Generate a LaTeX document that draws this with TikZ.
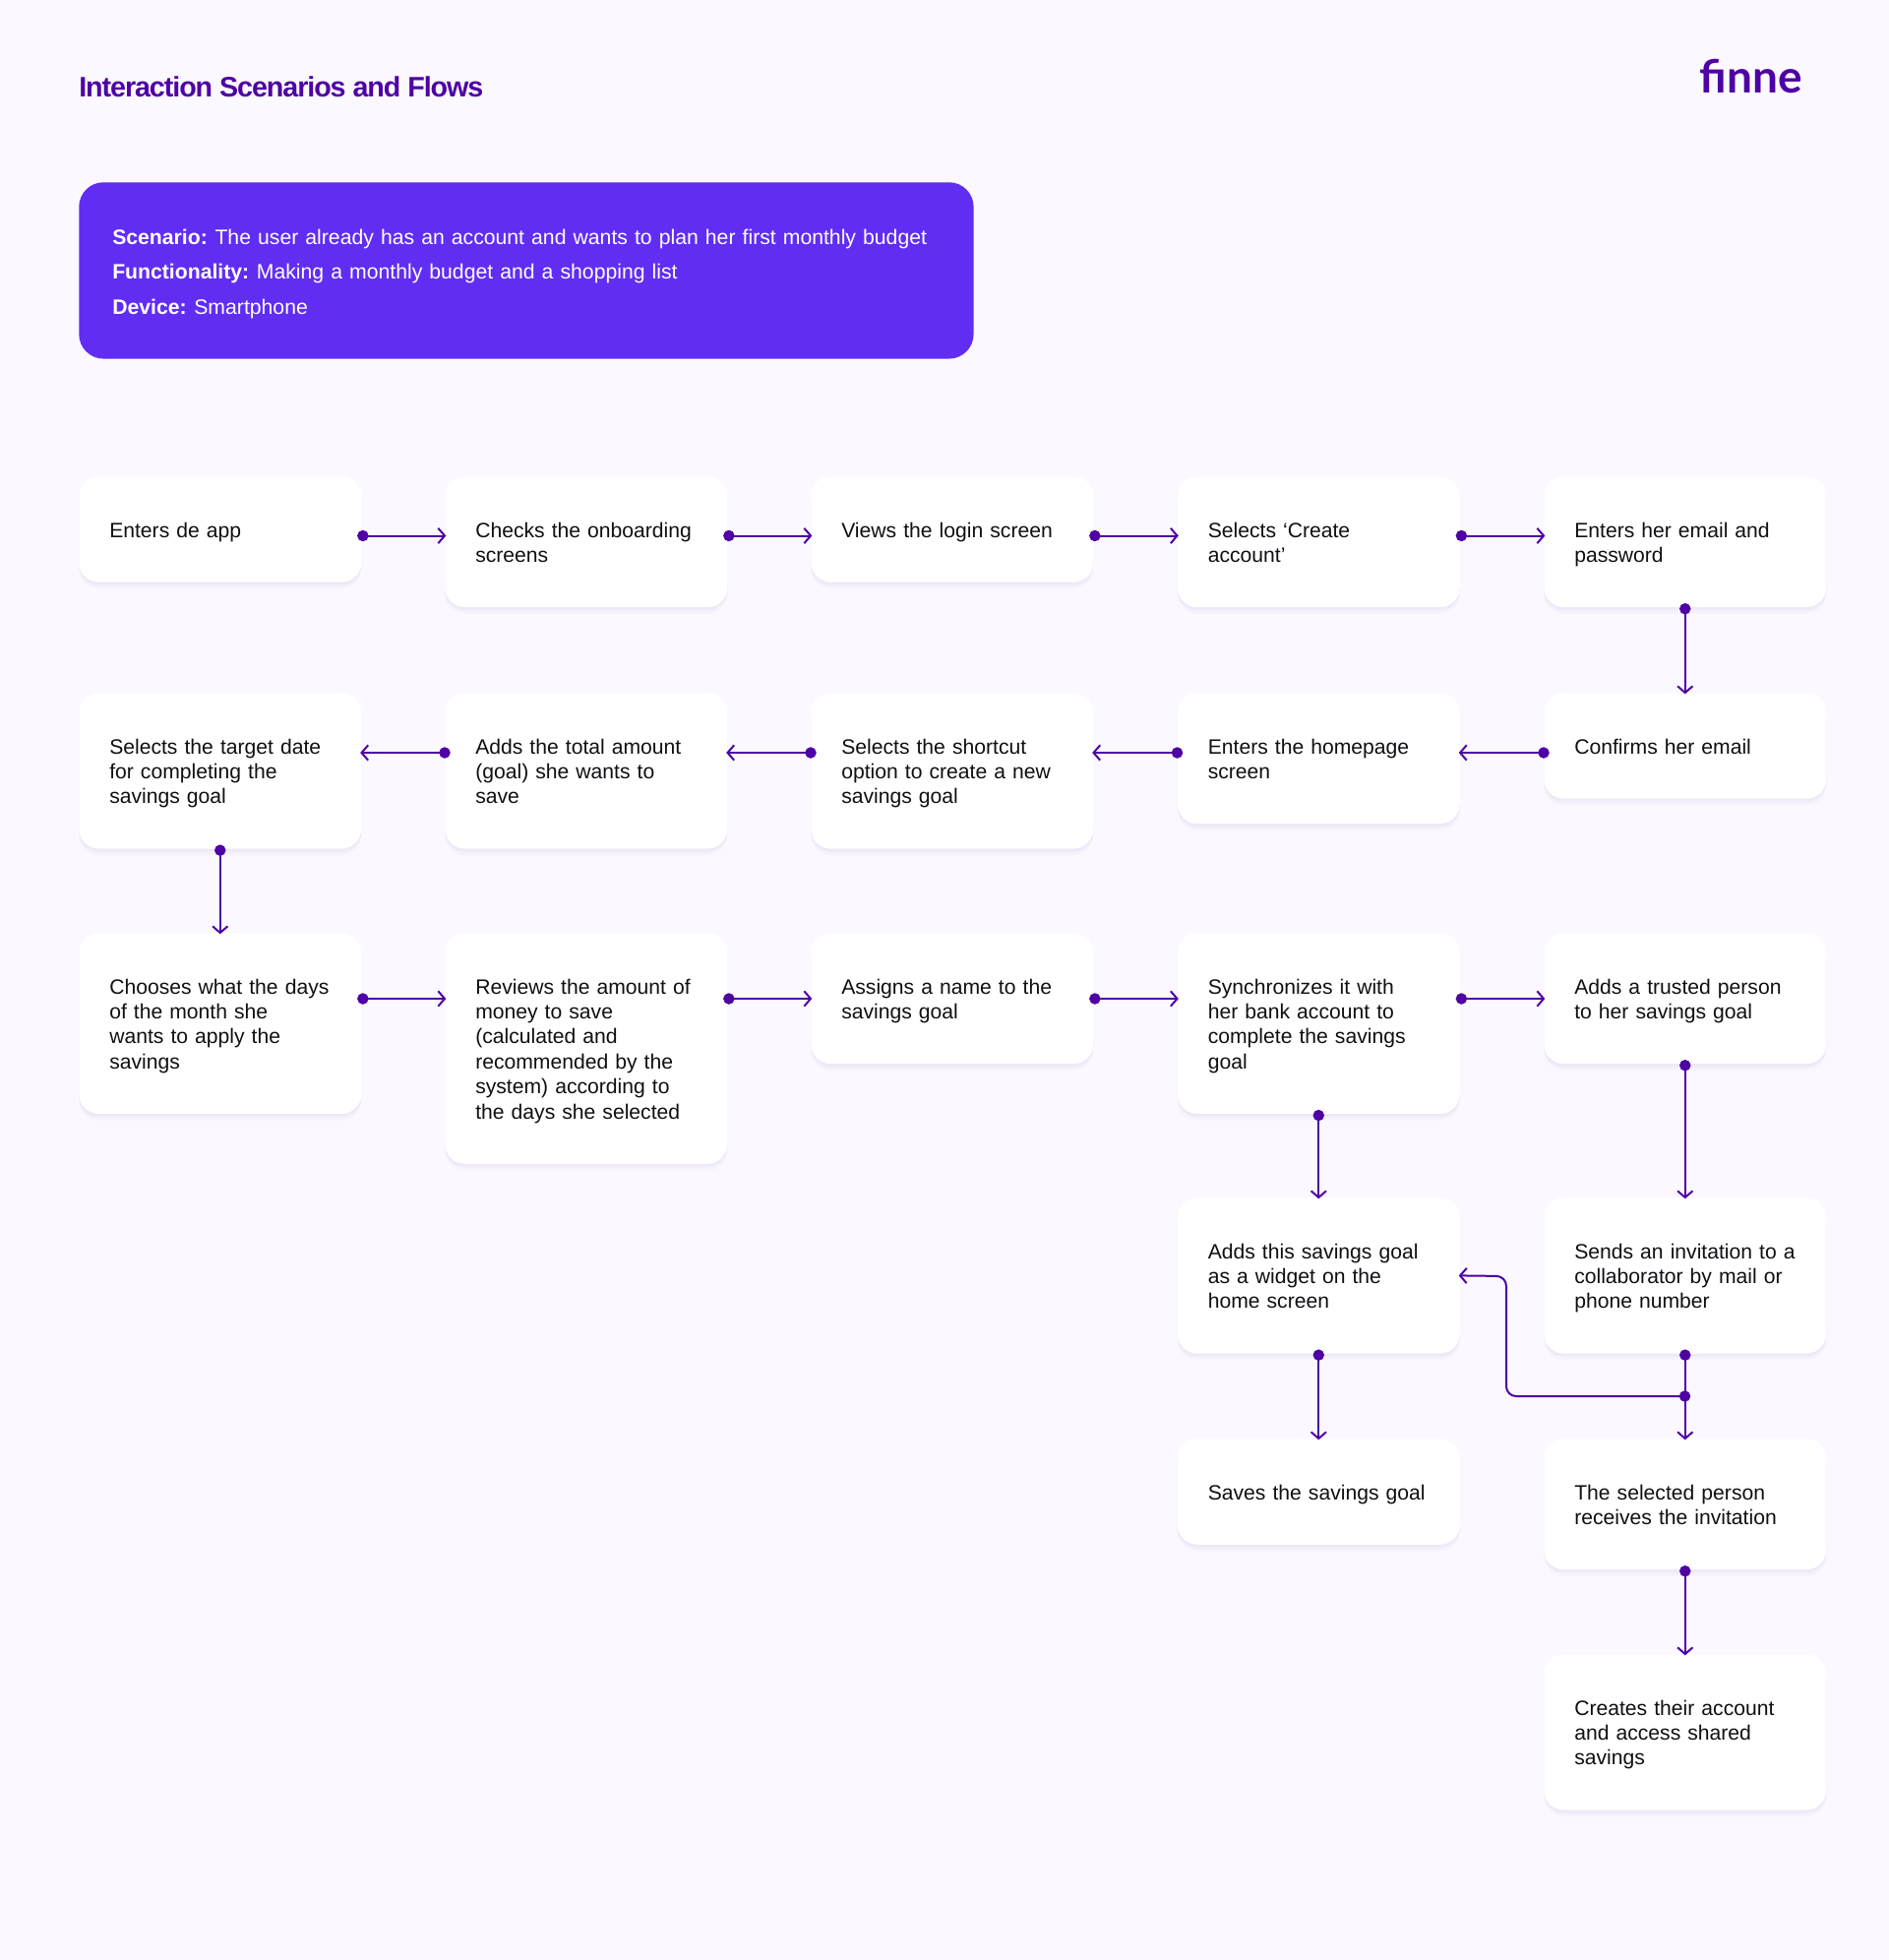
\documentclass[tikz,border=0pt]{standalone}
\usepackage{fontspec}
\setmainfont{Liberation Sans}
\newfontfamily\logofont{Lato}
\usetikzlibrary{arrows.meta,shadows}
\definecolor{pagebg}{HTML}{FBF9FF}
\definecolor{violet}{HTML}{4F02A4}
\definecolor{scenariobg}{HTML}{612DF3}
\definecolor{inktext}{HTML}{101014}
\newcommand{\labelgap}{\hspace{-2.2pt}}
\tikzset{
  softshadow/.style={drop shadow={shadow xshift=0pt,shadow yshift=-#1pt,opacity=0.025,fill=violet}},
  flowbox/.style={anchor=north west,fill=white,rounded corners=15pt,text=inktext,
    softshadow=1.5,softshadow=3,softshadow=5,
    inner xsep=23.25pt,inner ysep=30.8pt,text width=168.75pt,align=left,
    font=\fontsize{15.85}{19.05}\selectfont,
    execute at begin node={\rule{0pt}{15.5pt}},execute at end node={\rule[-3.5pt]{0pt}{3.5pt}}},
  flowline/.style={draw=violet,line width=1.5pt,
    {Circle[length=8.5pt]}-{Straight Barb[length=5pt,width=11.5pt,line width=1.5pt]},
    shorten <=-3.25pt,shorten >=-1pt},
  backline/.style={flowline,shorten <=-4.25pt},
}
\begin{document}
\begin{tikzpicture}[x=0.75pt,y=-0.75pt]
  \useasboundingbox[fill=pagebg] (0,0) rectangle (1920,1992);
  % heading
  \node[anchor=west,inner sep=0pt,text=violet,font=\bfseries\fontsize{21.5}{25}\selectfont\addfontfeature{LetterSpace=-3.7}] (title) at (80,88) {Interaction Scenarios and Flows};
  \node[anchor=base east,inner sep=0pt,text=violet,font=\logofont\bfseries\fontsize{34.5}{36}\selectfont] (logo) at (1832,94) {finne};
  \node[anchor=north west,fill=scenariobg,rounded corners=18.75pt,text=white,inner xsep=25.5pt,inner ysep=27.2pt,
    text width=631pt,align=left,font=\fontsize{15.9}{26.7}\selectfont,
    execute at begin node={\rule{0pt}{19.9pt}},execute at end node={\rule[-6.8pt]{0pt}{6.8pt}}] (scenario) at (80,185) {\textbf{Scenario:}\labelgap{} The user already has an account and wants to plan her first monthly budget\\
    \textbf{Functionality:}\labelgap{} Making a monthly budget and a shopping list\\
    \textbf{Device:}\labelgap{} Smartphone};
  % row 1
  \node[flowbox] (enterapp) at (80,484) {Enters de app};
  \node[flowbox] (onboarding) at (452,484) {Checks the onboarding\\screens};
  \node[flowbox] (login) at (824,484) {Views the login screen};
  \node[flowbox] (create) at (1196.5,484) {Selects ‘Create\\account’};
  \node[flowbox] (email) at (1569,484) {Enters her email and\\password};
  % row 2
  \node[flowbox] (target) at (80,704) {Selects the target date\\for completing the\\savings goal};
  \node[flowbox] (amount) at (452,704) {Adds the total amount\\(goal) she wants to\\save};
  \node[flowbox] (shortcut) at (824,704) {Selects the shortcut\\option to create a new\\savings goal};
  \node[flowbox] (homepage) at (1196.5,704) {Enters the homepage\\screen};
  \node[flowbox] (confirm) at (1569,704) {Confirms her email};
  % row 3
  \node[flowbox] (days) at (80,948) {Chooses what the days\\of the month she\\wants to apply the\\savings};
  \node[flowbox] (review) at (452,948) {Reviews the amount of\\money to save\\(calculated and\\recommended by the\\system) according to\\the days she selected};
  \node[flowbox] (naming) at (824,948) {Assigns a name to the\\savings goal};
  \node[flowbox] (bank) at (1196.5,948) {Synchronizes it with\\her bank account to\\complete the savings\\goal};
  \node[flowbox] (trusted) at (1569,948) {Adds a trusted person\\to her savings goal};
  % right hand columns
  \node[flowbox] (widget) at (1196.5,1217) {Adds this savings goal\\as a widget on the\\home screen};
  \node[flowbox] (invite) at (1569,1217) {Sends an invitation to a\\collaborator by mail or\\phone number};
  \node[flowbox] (saves) at (1196.5,1462) {Saves the savings goal};
  \node[flowbox] (receives) at (1569,1462) {The selected person\\receives the invitation};
  \node[flowbox] (shared) at (1569,1681) {Creates their account\\and access shared\\savings};
  % levels of the horizontal connectors
  \coordinate (rowa) at (0,544.5);
  \coordinate (rowb) at (0,765);
  \coordinate (rowc) at (0,1015);
  \coordinate (branch) at (1712.5,1419);
  \coordinate (turn) at (1531,1297);
  % connectors
  \draw[flowline] (enterapp.east |- rowa) -- (onboarding.west |- rowa);
  \draw[flowline] (onboarding.east |- rowa) -- (login.west |- rowa);
  \draw[flowline] (login.east |- rowa) -- (create.west |- rowa);
  \draw[flowline] (create.east |- rowa) -- (email.west |- rowa);
  \draw[flowline] (email.south) -- (confirm.north);
  \draw[backline] (confirm.west |- rowb) -- (homepage.east |- rowb);
  \draw[backline] (homepage.west |- rowb) -- (shortcut.east |- rowb);
  \draw[backline] (shortcut.west |- rowb) -- (amount.east |- rowb);
  \draw[backline] (amount.west |- rowb) -- (target.east |- rowb);
  \draw[flowline] (target.south) -- (days.north);
  \draw[flowline] (days.east |- rowc) -- (review.west |- rowc);
  \draw[flowline] (review.east |- rowc) -- (naming.west |- rowc);
  \draw[flowline] (naming.east |- rowc) -- (bank.west |- rowc);
  \draw[flowline] (bank.east |- rowc) -- (trusted.west |- rowc);
  \draw[flowline] (bank.south) -- (widget.north);
  \draw[flowline] (trusted.south) -- (invite.north);
  \draw[flowline] (widget.south) -- (saves.north);
  \draw[flowline] (invite.south) -- (receives.north);
  \draw[flowline] (receives.south) -- (shared.north);
  \draw[backline,rounded corners=7.5pt] (branch) -| (turn) -- (widget.east);
\end{tikzpicture}
\end{document}
